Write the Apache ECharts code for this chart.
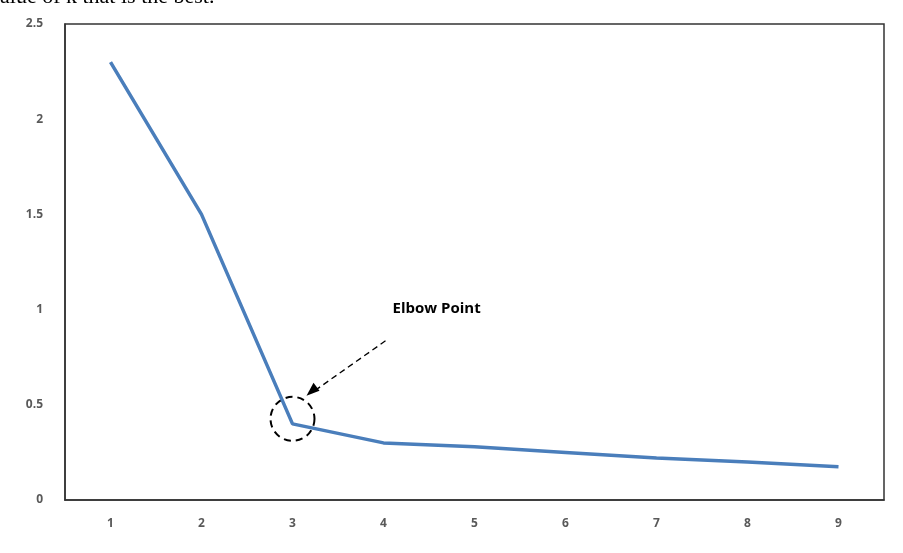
<!DOCTYPE html>
<html><head><meta charset="utf-8">
<script src="https://cdn.jsdelivr.net/npm/echarts@6/dist/echarts.min.js"></script>
<style>html,body{margin:0;padding:0;background:#fff}#c{width:903px;height:553px}</style>
</head><body><div id="c"></div>
<script>
const categories = ['1','2','3','4','5','6','7','8','9'];
const values = [2.3, 1.5, 0.4, 0.3, 0.28, 0.25, 0.22, 0.2, 0.175];
const elbowIndex = 2;
const chart = echarts.init(document.getElementById('c'));
const lab = {color:'#595959', fontFamily:'Open Sans', fontWeight:'bold', fontSize:12};
chart.setOption({
  animation:false,
  grid:{left:65, right:19, top:24, bottom:53, show:true, borderColor:'#333', borderWidth:1.5},
  xAxis:{type:'category', data:categories, boundaryGap:true,
    axisLine:{lineStyle:{color:'#333', width:1.5}}, axisTick:{show:false},
    axisLabel:Object.assign({margin:18}, lab)},
  yAxis:{type:'value', min:0, max:2.5, interval:0.5,
    axisLine:{show:true, lineStyle:{color:'#333', width:1.5}}, splitLine:{show:false},
    axisLabel:Object.assign({margin:22}, lab)},
  series:[{type:'line', data:values, symbol:'none', lineStyle:{color:'#4a7ebb', width:3.5}}]
});
const p = chart.convertToPixel({gridIndex:0}, [elbowIndex, values[elbowIndex]]);
const cx = p[0], cy = p[1] - 5;
chart.setOption({graphic:[
  {type:'text', left:0, top:-14, style:{text:'alue of k that is the best.', font:'22px "Liberation Serif"', fill:'#000'}},
  {type:'circle', shape:{cx:cx, cy:cy, r:22}, style:{fill:'none', stroke:'#000', lineWidth:2, lineDash:[7,5]}},
  {type:'line', shape:{x1:cx+93, y1:cy-78, x2:cx+22, y2:cy-28}, style:{stroke:'#000', lineWidth:1.3, lineDash:[6,4]}},
  {type:'polygon', shape:{points:[[cx+14,cy-23],[cx+21,cy-36],[cx+27,cy-28]]}, style:{fill:'#000'}},
  {type:'text', x:cx+100, y:cy-118, style:{text:'Elbow Point', font:'bold 15px "Open Sans"', fill:'#000'}}
]});
</script></body></html>
